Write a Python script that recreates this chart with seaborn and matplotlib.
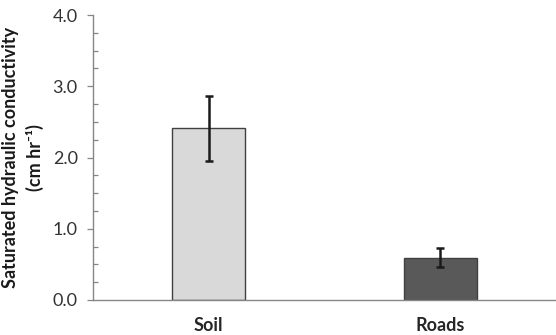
import matplotlib
matplotlib.use("Agg")
import matplotlib.pyplot as plt
import seaborn as sns
import pandas as pd
from matplotlib.ticker import MultipleLocator

categories = ["Soil", "Roads"]
values = [2.41, 0.59]
errors = [0.46, 0.133]
colors = ["#d9d9d9", "#595959"]

sns.set_theme(style="white")
plt.rcParams['font.family'] = ['Lato', 'DejaVu Sans']

df = pd.DataFrame({"cat": categories, "val": values})

fig = plt.figure(figsize=(5.56, 3.35), dpi=100)
ax = fig.add_axes([93/556, 1-300/335, 1-93/556, 285/335])

sns.barplot(data=df, x="cat", y="val", hue="cat", palette=colors, legend=False,
            errorbar=None, width=0.315, edgecolor="#404040", linewidth=1.0, ax=ax)
ax.errorbar(x=range(len(categories)), y=values, yerr=errors, fmt="none",
            ecolor="#1a1a1a", elinewidth=1.8, capsize=2.8, capthick=1.8)

ax.set_xlim(-0.5, 1.5)
ax.set_ylim(0, 4.0)
ax.yaxis.set_major_locator(MultipleLocator(1.0))
ax.yaxis.set_minor_locator(MultipleLocator(0.25))
ax.set_yticklabels([f"{t:.1f}" for t in ax.get_yticks()])
ax.tick_params(axis="y", which="major", direction="out", length=4, width=0.9,
               color="#868686", labelsize=13, labelcolor="#333333", left=True, pad=7)
ax.tick_params(axis="y", which="minor", direction="in", length=3.5, width=0.9,
               color="#868686", left=True)
ax.tick_params(axis="x", length=0, labelsize=13, pad=12)
for lab in ax.get_xticklabels():
    lab.set_fontweight("bold")

for s in ["top", "right"]:
    ax.spines[s].set_visible(False)
for s in ["left", "bottom"]:
    ax.spines[s].set_color("#868686")
    ax.spines[s].set_linewidth(1.0)

ax.set_xlabel("")
ax.set_ylabel("Saturated hydraulic conductivity\n(cm hr\u207b\u00b9)", fontsize=13,
              fontweight="bold", color="#1a1a1a", labelpad=6, linespacing=1.45)

fig.savefig("out.png", dpi=100)
